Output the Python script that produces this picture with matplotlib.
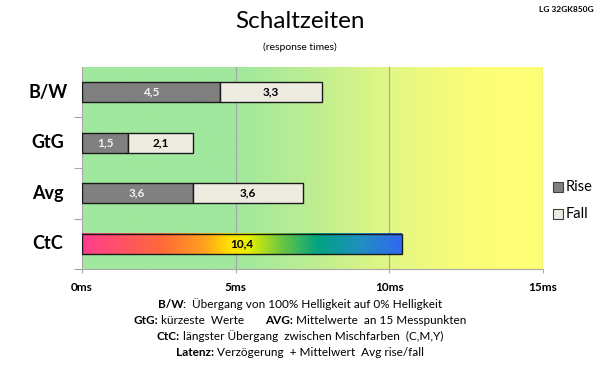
import numpy as np
import matplotlib
matplotlib.use('Agg')
import matplotlib.pyplot as plt
from matplotlib.colors import LinearSegmentedColormap
from matplotlib.offsetbox import TextArea, HPacker, AnchoredOffsetbox
from matplotlib.patches import Rectangle

plt.rcParams['font.family'] = ['Lato', 'DejaVu Sans']

# --- data ---
categories = ['B/W', 'GtG', 'Avg', 'CtC']
rise = [4.5, 1.5, 3.6]
fall = [3.3, 2.1, 3.6]
ctc_total = 10.4
tick_vals = [0, 5, 10, 15]
tick_labels = ['0ms', '5ms', '10ms', '15ms']

RISE_C = '#808080'
FALL_C = '#EEEBE1'
EDGE = '#1A1A1A'

fig = plt.figure(figsize=(6.0, 3.66), dpi=100, facecolor='white')
ax = fig.add_axes([0.1367, 0.265, 0.768, 0.552])
ax.set_xlim(0, 15)
ax.set_ylim(3.5, -0.5)

# background gradient: green -> yellow
bg_cmap = LinearSegmentedColormap.from_list('bg', [
    (0.0, '#A0E89E'), (1 / 3, '#A0E89E'), (0.5, '#BDEE92'),
    (2 / 3, '#E2F784'), (0.85, '#FCFD78'), (1.0, '#FFFF75')])
grad = np.linspace(0, 1, 512).reshape(1, -1)
ax.imshow(grad, cmap=bg_cmap, aspect='auto', extent=(0, 15, 3.5, -0.5),
          zorder=0, interpolation='bilinear')

for x in (5, 10, 15):
    ax.axvline(x, color='#A8A8A8', lw=0.9, zorder=1)

y = np.arange(len(rise))
h = 0.4
ax.barh(y, rise, height=h, color=RISE_C, edgecolor=EDGE, lw=1.0, zorder=3)
ax.barh(y, fall, left=rise, height=h, color=FALL_C, edgecolor=EDGE, lw=1.0, zorder=3)
for i in range(len(rise)):
    ax.text(rise[i] / 2, y[i], f'{rise[i]:.1f}'.replace('.', ','), ha='center',
            va='center', fontsize=8.5, fontweight='bold', color='#F2F2F2', zorder=5)
    ax.text(rise[i] + fall[i] / 2, y[i], f'{fall[i]:.1f}'.replace('.', ','),
            ha='center', va='center', fontsize=8.5, fontweight='bold',
            color='black', zorder=5)

# CtC rainbow bar
ctc_y = 3
ax.barh([ctc_y], [ctc_total], height=h, color='none', edgecolor=EDGE,
        lw=1.0, zorder=4)
rb_cmap = LinearSegmentedColormap.from_list('rb', [
    (0.0, '#FF3C8E'), (0.25, '#FF6A3A'), (0.38, '#FFA020'), (0.46, '#FFE000'),
    (0.52, '#E8F000'), (0.62, '#70C840'), (0.74, '#00A282'), (0.87, '#2090C0'),
    (1.0, '#3068F0')])
ax.imshow(grad, cmap=rb_cmap, aspect='auto',
          extent=(0, ctc_total, ctc_y + h / 2, ctc_y - h / 2), zorder=3,
          interpolation='bilinear')
ax.set_ylim(3.5, -0.5)
ax.set_xlim(0, 15)
ax.text(ctc_total / 2, ctc_y, f'{ctc_total:.1f}'.replace('.', ','), ha='center',
        va='center', fontsize=8.5, fontweight='bold', color='black', zorder=5)

# axes styling
for s in ('top', 'right'):
    ax.spines[s].set_visible(False)
for s in ('left', 'bottom'):
    ax.spines[s].set_color('#A8A8A8')
ax.set_xticks(tick_vals)
ax.set_xticklabels(tick_labels, fontsize=8.5, fontweight='bold')
ax.tick_params(axis='x', length=3, color='#A8A8A8', pad=6)
ax.set_yticks([0.5, 1.5, 2.5, 3.5])
ax.set_yticklabels([])
ax.tick_params(axis='y', length=6, color='#A8A8A8')
for i, c in enumerate(categories):
    ax.text(-0.074, i, c, transform=ax.get_yaxis_transform(), ha='center',
            va='center', fontsize=13, fontweight='bold')

# legend
for yy, col, lab in ((187, RISE_C, 'Rise'), (213.5, FALL_C, 'Fall')):
    fy = 1 - yy / 366
    fig.patches.append(Rectangle((553 / 600, fy - 5 / 366), 9.5 / 600, 10 / 366,
                                 transform=fig.transFigure, facecolor=col,
                                 edgecolor='#404040', lw=0.8))
    fig.text(566 / 600, fy, lab, ha='left', va='center', fontsize=10.5)

# titles
fig.text(0.5, 1 - 22 / 366, 'Schaltzeiten', ha='center', va='center', fontsize=17.5)
fig.text(0.5, 1 - 47 / 366, '(response times)', ha='center', va='center', fontsize=7.5)
fig.text(594 / 600, 1 - 10 / 366, 'LG 32GK850G', ha='right', va='center',
         fontsize=6, fontweight='bold')

# footnotes
notes = [
    [('B/W', True), (':  Übergang von 100% Helligkeit auf 0% Helligkeit', False)],
    [('GtG:', True), (' kürzeste  Werte       ', False), ('AVG:', True),
     (' Mittelwerte  an 15 Messpunkten', False)],
    [('CtC:', True), (' längster Übergang  zwischen Mischfarben  (C,M,Y)', False)],
    [('Latenz:', True), (' Verzögerung  + Mittelwert  Avg rise/fall', False)],
]
note_y = [304, 320, 336, 352]
for parts, yy in zip(notes, note_y):
    boxes = [TextArea(t, textprops=dict(fontsize=8.5, fontweight='bold' if b else 'normal'))
             for t, b in parts]
    pack = HPacker(children=boxes, pad=0, sep=0, align='baseline')
    anch = AnchoredOffsetbox(loc='center', child=pack, frameon=False,
                             bbox_to_anchor=(0.5, 1 - yy / 366),
                             bbox_transform=fig.transFigure, pad=0, borderpad=0)
    fig.add_artist(anch)

fig.savefig('out.png', dpi=100, facecolor='white')
